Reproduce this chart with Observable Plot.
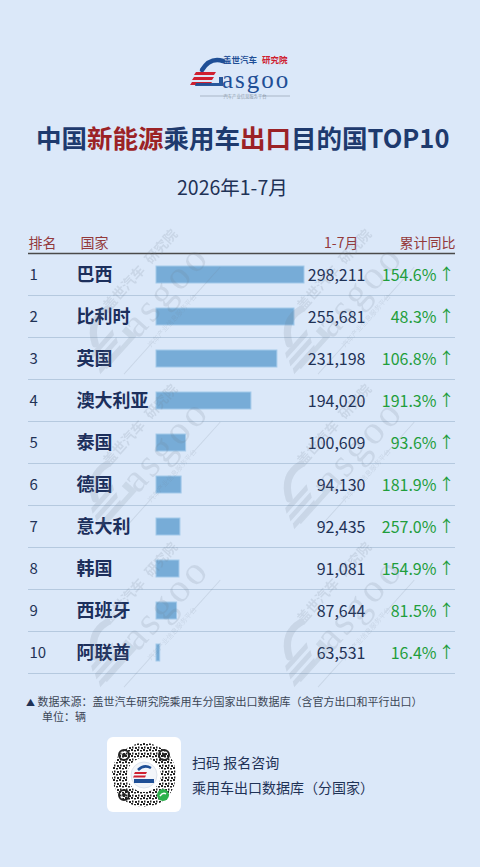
<!DOCTYPE html>
<html><head><meta charset="utf-8">
<script src="https://cdn.jsdelivr.net/npm/d3@7"></script>
<script src="https://cdn.jsdelivr.net/npm/@observablehq/plot@0.6"></script>
<style>
html,body{margin:0;padding:0;background:#dbe8f9;}
#page{position:relative;width:480px;height:867px;overflow:hidden;background:#dbe8f9;font-family:"Noto Sans CJK SC","Noto Sans",sans-serif;}
.abs{position:absolute;white-space:nowrap;}
#title{left:36px;top:122px;font-size:25.5px;font-weight:700;color:#1e3a6e;line-height:30px;}
#title .r{color:#9b2226;}
#subtitle{left:177px;top:175px;font-size:19.5px;color:#1f3256;line-height:24px;}
#chart{position:absolute;left:0;top:220px;}
#logo{position:absolute;left:190px;top:52px;}
#wm{position:absolute;left:0;top:0;pointer-events:none;}
.foot{font-size:11px;color:#3b4656;line-height:14px;}
#card{left:107px;top:737px;width:74px;height:75px;border-radius:6px;background:#fff;}
.qrt{font-size:14px;color:#1f3256;line-height:18px;}
</style></head>
<body><div id="page">
<svg id="logo" width="110" height="50"></svg>
<div id="title" class="abs">中国<span class="r">新能源</span>乘用车<span class="r">出口</span>目的国TOP10</div>
<div id="subtitle" class="abs">2026年1-7月</div>
<div id="chart"></div>
<div class="abs foot" style="left:26px;top:694px;"><span style="color:#1f3256;font-size:9px;">▲</span> 数据来源：盖世汽车研究院乘用车分国家出口数据库（含官方出口和平行出口）</div>
<div class="abs foot" style="left:42px;top:709px;">单位：辆</div>
<div id="card" class="abs"><svg id="qr" width="74" height="75"></svg></div>
<div class="abs qrt" style="left:192px;top:753px;">扫码 报名咨询</div>
<div class="abs qrt" style="left:192px;top:778px;">乘用车出口数据库（分国家）</div>
<svg id="wm" width="480" height="867"></svg>
</div>
<script>
const ranks = [1, 2, 3, 4, 5, 6, 7, 8, 9, 10];
const countries = ["巴西", "比利时", "英国", "澳大利亚", "泰国", "德国", "意大利", "韩国", "西班牙", "阿联酋"];
const volumes = [298211, 255681, 231198, 194020, 100609, 94130, 92435, 91081, 87644, 63531];
const growthPct = [154.6, 48.3, 106.8, 191.3, 93.6, 181.9, 257.0, 154.9, 81.5, 16.4];
const headerLabels = ["排名", "国家", "1-7月", "累计同比"];

const rows = countries.map((c, i) => ({rank: ranks[i], country: c, volume: volumes[i], growth: growthPct[i]}));
const fmt = d3.format(",");
const FONT = '"Noto Sans CJK SC", "Noto Sans", sans-serif';
const navy = "#1c2f5c", numC = "#1f3256", green = "#1f9e3c", headC = "#93393b";

const hdr = (i, dx, anchor) => Plot.text([headerLabels[i]], {
  text: d => d, frameAnchor: "top-left", dx, dy: -14, textAnchor: anchor, fill: headC, fontSize: 14
});

const chart = Plot.plot({
  width: 480, height: 460,
  marginTop: 32, marginBottom: 7, marginLeft: 28, marginRight: 25,
  style: {fontFamily: FONT, background: "transparent", overflow: "visible"},
  x: {domain: [58200, 270000], range: [156, 304], clamp: true, axis: null},
  y: {domain: countries, padding: 0, axis: null},
  marks: [
    Plot.ruleY(countries, {y: d => d, dy: 21, stroke: "#b5c9df", strokeWidth: 1}),
    Plot.ruleY([countries[0]], {y: d => d, dy: -21, stroke: "#4a4a4a", strokeWidth: 1.3}),
    hdr(0, 0, "start"),
    hdr(1, 52, "start"),
    hdr(2, 330, "end"),
    hdr(3, 427, "end"),
    Plot.barX(rows, {x: "volume", y: "country", insetTop: 13, insetBottom: 12, fill: "#77acd7", stroke: "#a3c9ea", strokeWidth: 1}),
    Plot.text(rows, {y: "country", text: "rank", frameAnchor: "left", textAnchor: "start", dx: 1, dy: 1, fill: numC, fontSize: 15}),
    Plot.text(rows, {y: "country", text: "country", frameAnchor: "left", textAnchor: "start", dx: 48, dy: 1, fill: navy, fontSize: 18, fontWeight: 700}),
    Plot.text(rows, {y: "country", text: d => fmt(d.volume), frameAnchor: "left", textAnchor: "end", dx: 337, dy: 1, fill: numC, fontSize: 16}),
    Plot.text(rows, {y: "country", text: d => d.growth.toFixed(1) + "%", frameAnchor: "left", textAnchor: "end", dx: 408, dy: 1, fill: green, fontSize: 16}),
    Plot.text(rows, {y: "country", text: () => "↑", frameAnchor: "left", textAnchor: "middle", dx: 418, dy: 0, fill: green, fontSize: 16})
  ]
});
document.getElementById("chart").appendChild(chart);

// Logo (decorative)
function logoMarkup(blue, red, gray) {
  return `
  <text x="33" y="11" font-size="8.5" font-weight="700" fill="${blue}" font-family='${FONT}'>盖世汽车</text>
  <text x="72" y="11" font-size="8.5" font-weight="700" fill="${red}" font-family='${FONT}'>研究院</text>
  <path d="M33 9 Q20 5 12 18" stroke="${blue}" stroke-width="4.5" fill="none" stroke-linecap="round"/>
  <path d="M6 20 L26 20 L24 23 L4 23 Z M4 25 L24 25 L22 28 L2 28 Z M2 30 L22 30 L20 33 L0 33 Z" fill="${red}"/>
  <path d="M5 34 L33 34 L33 25 L29 25 L29 31 L6 31 Z" fill="${blue}" opacity="0.95"/>
  <text x="32" y="36" font-size="25" letter-spacing="2" fill="${blue}" font-family="Liberation Serif, serif">asgoo</text>
  <line x1="10" y1="44" x2="38" y2="44" stroke="${gray}" stroke-width="0.6"/>
  <line x1="72" y1="44" x2="100" y2="44" stroke="${gray}" stroke-width="0.6"/>
  <text x="55" y="45.6" font-size="4.3" text-anchor="middle" fill="${gray}" font-family='${FONT}'>汽车产业信息服务平台</text>`;
}
document.getElementById("logo").innerHTML = logoMarkup("#1f4f96", "#cf2030", "#8a96a6");

// Watermarks (decorative)
const wmCenters = [[146, 297], [340, 297], [146, 452], [340, 452], [146, 610], [340, 610]];
document.getElementById("wm").innerHTML = wmCenters.map(([cx, cy]) =>
  `<g transform="translate(${cx},${cy}) rotate(-48) scale(1.6) translate(-55,-22)" opacity="0.16">${logoMarkup("#6f7c8c", "#6f7c8c", "#6f7c8c")}</g>`
).join("");

// QR-like mini program code (decorative)
document.getElementById("qr").innerHTML = `
<defs>
  <pattern id="dots" width="6" height="6" patternUnits="userSpaceOnUse">
    <rect x="0" y="0" width="2" height="2" fill="#222"/>
    <rect x="3" y="1" width="2" height="1.5" fill="#222"/>
    <rect x="1" y="3.5" width="1.5" height="2" fill="#222"/>
    <rect x="4" y="4" width="2" height="2" fill="#222"/>
  </pattern>
  <mask id="ring"><circle cx="37" cy="38" r="32" fill="#fff"/><circle cx="37" cy="38" r="17" fill="#000"/></mask>
</defs>
<rect x="0" y="0" width="74" height="75" fill="url(#dots)" mask="url(#ring)"/>
<g fill="none" stroke="#222" stroke-width="2">
  <circle cx="17" cy="18" r="5"/><circle cx="57" cy="18" r="5"/><circle cx="17" cy="58" r="5"/>
</g>
<g fill="#222"><circle cx="17" cy="18" r="2"/><circle cx="57" cy="18" r="2"/><circle cx="17" cy="58" r="2"/></g>
<circle cx="37" cy="38" r="15" fill="#fff"/>
<circle cx="37" cy="38" r="13" fill="#f2f5fa" stroke="#d7dee8" stroke-width="0.8"/>
<path d="M44 31 Q37 27 31 33" stroke="#1f4f96" stroke-width="2.5" fill="none"/>
<path d="M28 35 L40 35 L39 37 L27 37 Z M27 38.5 L39 38.5 L38 40.5 L26 40.5 Z" fill="#cf2030"/>
<rect x="27" y="42" width="20" height="4" fill="#1f4f96"/>
<circle cx="56" cy="58" r="6" fill="#2bb24c"/>
<path d="M53 59 Q56 55 59 57" stroke="#fff" stroke-width="1.4" fill="none"/>`;
</script>
</body></html>
